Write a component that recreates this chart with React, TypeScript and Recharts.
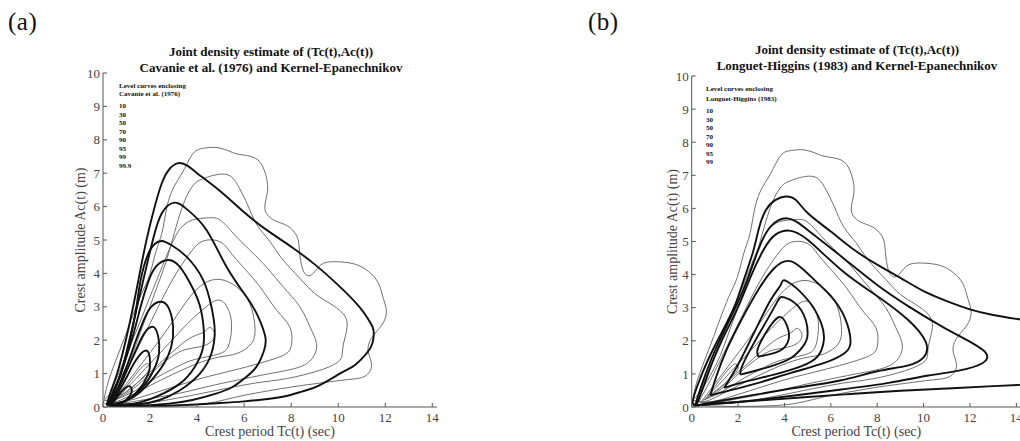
import { LineChart, Line, XAxis, YAxis, Label } from "recharts";

type Pt = [number, number];

const FONT = '"Liberation Serif", "Times New Roman", serif';

const xTicks = [0, 2, 4, 6, 8, 10, 12, 14];
const yTicks = [0, 1, 2, 3, 4, 5, 6, 7, 8, 9, 10];

// kernel (Epanechnikov) estimate - same contours in both panels
const kernel1: Pt[] = [
  [0.02, 0.12], [0.2, 0.7], [0.55, 1.4], [0.95, 2.13], [1.32, 2.84], [1.67, 3.44], [1.98, 3.95],
  [2.25, 4.65], [2.5, 5.2], [2.68, 5.86], [2.95, 6.5], [3.41, 7.06], [3.84, 7.6], [4.3, 7.75],
  [4.8, 7.77], [5.3, 7.68], [5.75, 7.57], [6.45, 7.46], [6.85, 7.1], [7.0, 6.5], [6.88, 5.95],
  [7.25, 5.6], [7.85, 5.42], [8.25, 5.1], [8.35, 4.7], [8.5, 4.1], [8.85, 3.95], [9.25, 4.25],
  [9.85, 4.35], [10.7, 4.28], [11.3, 4.05], [11.7, 3.72], [11.92, 3.25], [12.05, 2.85],
  [11.85, 2.45], [11.4, 2.05], [11.28, 1.65], [11.42, 1.25], [11.13, 0.92], [10.4, 0.82],
  [9.27, 0.72], [8.12, 0.61], [7.0, 0.48], [6.0, 0.35], [5.2, 0.22], [4.4, 0.1], [3.5, 0.04],
  [2.5, 0.02], [1.5, 0.02], [0.5, 0.05], [0.02, 0.12],
];
const kernel2: Pt[] = [
  [0.05, 0.2], [0.36, 0.45], [0.8, 0.95], [1.23, 1.55], [1.59, 2.23], [1.96, 2.94], [2.32, 3.64],
  [2.68, 4.35], [2.97, 5.05], [3.26, 5.75], [3.55, 6.3], [3.85, 6.65], [4.2, 6.82], [4.86, 6.96],
  [5.43, 6.91], [5.8, 6.55], [6.15, 6.05], [6.55, 5.45], [7.1, 4.95], [7.6, 4.45], [8.37, 3.85],
  [9.0, 3.4], [9.65, 3.1], [10.2, 2.8], [10.38, 2.4], [10.2, 1.8], [10.07, 1.4], [9.22, 1.1],
  [7.8, 0.85], [6.5, 0.72], [5.2, 0.55], [4.0, 0.38], [2.8, 0.22], [1.4, 0.1], [0.05, 0.2],
];
const kernel3: Pt[] = [
  [0.2, 0.2], [0.6, 0.9], [1.2, 1.9], [1.8, 2.95], [2.4, 4.0], [2.9, 4.85], [3.3, 5.35], [3.8, 5.6],
  [4.4, 5.66], [4.97, 5.6], [5.6, 5.15], [6.24, 4.7], [7.0, 4.15], [7.66, 3.6], [8.37, 3.0],
  [8.8, 2.4], [9.08, 1.9], [8.94, 1.5], [8.37, 1.2], [7.09, 1.0], [5.68, 0.8], [4.5, 0.62],
  [3.3, 0.42], [2.0, 0.25], [0.8, 0.12], [0.2, 0.2],
];
const kernel4: Pt[] = [
  [0.3, 0.15], [0.8, 0.8], [1.4, 1.65], [2.0, 2.5], [2.6, 3.35], [3.2, 4.1], [3.8, 4.7], [4.3, 4.98],
  [4.97, 4.95], [5.4, 4.65], [5.82, 4.3], [6.67, 3.6], [7.38, 2.9], [7.94, 2.4], [8.02, 1.9],
  [7.8, 1.6], [7.09, 1.4], [6.1, 1.2], [4.97, 1.0], [4.0, 0.82], [3.0, 0.6], [2.0, 0.38],
  [1.0, 0.18], [0.3, 0.15],
];
const kernel5: Pt[] = [
  [0.4, 0.15], [1.0, 0.7], [1.7, 1.35], [2.4, 2.0], [3.1, 2.7], [3.7, 3.3], [4.3, 3.7], [4.97, 3.82],
  [5.68, 3.6], [6.24, 3.1], [6.46, 2.4], [6.31, 1.9], [5.68, 1.6], [4.97, 1.5], [4.2, 1.35],
  [3.4, 1.12], [2.5, 0.82], [1.6, 0.5], [0.8, 0.22], [0.4, 0.15],
];
const kernel6: Pt[] = [
  [0.5, 0.2], [1.2, 0.7], [2.0, 1.3], [2.8, 1.9], [3.6, 2.5], [4.3, 2.95], [4.97, 3.2], [5.39, 2.8],
  [5.46, 2.3], [5.32, 1.8], [4.97, 1.6], [4.4, 1.5], [3.7, 1.38], [3.0, 1.15], [2.2, 0.85],
  [1.4, 0.5], [0.5, 0.2],
];
const kernel7: Pt[] = [
  [0.6, 0.25], [1.5, 0.75], [2.4, 1.3], [3.2, 1.8], [3.8, 2.1], [4.3, 2.25], [4.55, 2.38],
  [4.75, 2.2], [4.6, 1.95], [4.1, 1.8], [3.5, 1.72], [2.9, 1.5], [2.1, 1.05], [1.3, 0.55], [0.6, 0.25],
];
const kernel8: Pt[] = [
  [0.7, 0.35], [1.2, 0.8], [1.6, 1.15], [1.9, 1.3], [2.0, 1.15], [1.7, 0.9], [1.2, 0.55], [0.7, 0.35],
];
const kernelCurves = [kernel1, kernel2, kernel3, kernel4, kernel5, kernel6, kernel7, kernel8];

// Cavanie et al. (1976) level curves
const cav999: Pt[] = [
  [0.15, 0.05], [0.35, 0.5], [0.6, 1.0], [0.97, 2.0], [1.28, 3.0], [1.56, 4.0], [1.85, 5.0],
  [2.2, 6.0], [2.5, 6.7], [2.8, 7.1], [3.2, 7.3], [3.6, 7.22], [4.0, 7.0], [5.0, 6.45], [6.0, 5.83],
  [7.0, 5.28], [8.0, 4.8], [9.0, 4.27], [10.0, 3.65], [10.9, 3.0], [11.3, 2.6], [11.5, 2.3],
  [11.45, 1.9], [11.2, 1.6], [10.7, 1.25], [10.2, 1.05], [9.2, 0.65], [8.5, 0.47], [7.8, 0.33],
  [7.0, 0.24], [6.0, 0.17], [5.0, 0.12], [4.0, 0.08], [3.0, 0.05], [2.0, 0.03], [1.0, 0.02], [0.15, 0.05],
];
const cav99: Pt[] = [
  [0.2, 0.05], [0.45, 0.5], [0.75, 1.0], [1.12, 2.0], [1.45, 3.0], [1.78, 4.0], [2.12, 5.0],
  [2.5, 5.8], [3.05, 6.12], [3.6, 5.9], [4.4, 5.3], [5.25, 4.2], [6.1, 3.3], [6.6, 2.7], [6.9, 2.1],
  [6.85, 1.7], [6.52, 1.2], [6.0, 0.85], [5.5, 0.6], [4.8, 0.4], [3.8, 0.21], [2.8, 0.1], [1.5, 0.04], [0.2, 0.05],
];
const cav95: Pt[] = [
  [0.25, 0.05], [0.55, 0.6], [0.85, 1.2], [1.15, 2.0], [1.4, 2.9], [1.6, 3.8], [1.9, 4.55], [2.2, 4.88],
  [2.5, 4.97], [2.9, 4.85], [3.55, 4.5], [4.26, 3.8], [4.61, 3.0], [4.75, 2.3], [4.61, 1.6], [4.12, 1.0],
  [3.27, 0.5], [2.41, 0.21], [1.5, 0.08], [0.25, 0.05],
];
const cav90: Pt[] = [
  [0.25, 0.05], [0.6, 0.7], [0.95, 1.4], [1.3, 2.2], [1.6, 3.0], [1.9, 3.7], [2.25, 4.2], [2.77, 4.4],
  [3.2, 4.25], [3.55, 3.9], [4.04, 3.2], [4.26, 2.5], [4.26, 1.8], [3.9, 1.2], [3.27, 0.7], [2.27, 0.31],
  [1.3, 0.1], [0.25, 0.05],
];
const cav70: Pt[] = [
  [0.3, 0.05], [0.65, 0.6], [1.0, 1.2], [1.35, 1.9], [1.7, 2.55], [2.05, 3.0], [2.48, 3.15], [2.8, 2.95],
  [2.98, 2.4], [2.9, 1.8], [2.55, 1.25], [2.0, 0.75], [1.3, 0.3], [0.3, 0.05],
];
const cav50: Pt[] = [
  [0.3, 0.05], [0.7, 0.6], [1.05, 1.15], [1.4, 1.7], [1.75, 2.2], [2.13, 2.4], [2.35, 2.1], [2.38, 1.6],
  [2.15, 1.1], [1.7, 0.6], [1.0, 0.2], [0.3, 0.05],
];
const cav30: Pt[] = [
  [0.35, 0.05], [0.7, 0.5], [1.05, 0.95], [1.4, 1.4], [1.84, 1.69], [2.0, 1.35], [1.9, 0.95],
  [1.5, 0.5], [0.9, 0.15], [0.35, 0.05],
];
const cav10: Pt[] = [
  [0.35, 0.05], [0.65, 0.35], [0.9, 0.55], [1.13, 0.62], [1.22, 0.45], [1.0, 0.22], [0.7, 0.1], [0.35, 0.05],
];
const cavanieCurves = [cav999, cav99, cav95, cav90, cav70, cav50, cav30, cav10];
const cavanieLevels = ["10", "30", "50", "70", "90", "95", "99", "99.9"];

// Longuet-Higgins (1983) level curves
const lh99: Pt[] = [
  [14.2, 2.64], [13.0, 2.78], [12.0, 2.95], [11.0, 3.2], [10.0, 3.5], [9.0, 3.9], [8.0, 4.3],
  [7.0, 4.75], [6.0, 5.3], [5.0, 5.86], [4.5, 6.25], [4.06, 6.36], [3.6, 6.25], [3.2, 5.95],
  [2.9, 5.4], [2.65, 4.7], [2.25, 3.85], [1.84, 3.03], [1.28, 2.23], [0.7, 1.42], [0.25, 0.65],
  [0.05, 0.1], [0.5, 0.07], [1.5, 0.13], [3.0, 0.2], [5.0, 0.3], [7.0, 0.4], [9.0, 0.49],
  [11.0, 0.56], [13.0, 0.63], [14.2, 0.67],
];
const lh95: Pt[] = [
  [0.15, 0.05], [0.4, 0.6], [0.85, 1.45], [1.4, 2.3], [1.95, 3.1], [2.45, 3.95], [2.9, 4.8],
  [3.4, 5.45], [4.13, 5.7], [5.0, 5.35], [6.45, 4.55], [7.9, 3.74], [9.35, 3.04], [10.8, 2.43],
  [12.1, 1.93], [12.7, 1.62], [12.55, 1.33], [11.52, 1.1], [10.2, 0.95], [8.5, 0.73], [6.45, 0.53],
  [3.55, 0.27], [1.5, 0.12], [0.15, 0.05],
];
const lh90: Pt[] = [
  [0.2, 0.05], [0.5, 0.6], [0.95, 1.45], [1.5, 2.3], [2.05, 3.1], [2.55, 3.95], [3.1, 4.75],
  [3.6, 5.2], [4.2, 5.33], [5.0, 5.05], [6.45, 4.14], [7.9, 3.4], [9.3, 2.65], [10.1, 1.95],
  [10.0, 1.5], [9.3, 1.25], [8.0, 1.08], [6.4, 0.8], [4.5, 0.58], [2.8, 0.38], [1.2, 0.18], [0.2, 0.05],
];
const lh70: Pt[] = [
  [0.8, 0.35], [1.05, 0.9], [1.5, 1.72], [2.14, 2.63], [2.86, 3.53], [3.57, 4.2], [4.3, 4.4],
  [5.14, 3.94], [6.0, 3.35], [6.6, 2.7], [6.85, 2.0], [6.6, 1.63], [5.72, 1.33], [4.28, 1.03],
  [2.83, 0.72], [1.52, 0.48], [0.8, 0.35],
];
const lh50: Pt[] = [
  [1.4, 0.58], [1.96, 1.23], [2.68, 2.23], [3.41, 3.24], [3.84, 3.69], [4.1, 3.8], [5.0, 3.24],
  [5.58, 2.54], [5.7, 2.03], [5.43, 1.53], [4.71, 1.23], [3.55, 0.98], [2.39, 0.78], [1.4, 0.58],
];
const lh30: Pt[] = [
  [2.1, 0.98], [2.17, 1.23], [2.68, 1.93], [3.26, 2.64], [3.7, 3.19], [4.0, 3.31], [4.71, 2.94],
  [5.0, 2.23], [4.8, 1.83], [4.28, 1.48], [3.41, 1.23], [2.5, 1.05], [2.1, 0.98],
];
const lh10: Pt[] = [
  [2.87, 1.52], [2.83, 1.7], [3.0, 2.0], [3.37, 2.43], [3.77, 2.72], [4.05, 2.55], [4.2, 2.15],
  [4.0, 1.8], [3.55, 1.63], [2.87, 1.52],
];
const lhCurves = [lh99, lh95, lh90, lh70, lh50, lh30, lh10];
const lhLevels = ["10", "30", "50", "70", "90", "95", "99"];

const toRows = (pts: Pt[]) => pts.map(([x, y]) => ({ x, y }));

const tickStyle = { fontFamily: FONT, fontSize: 13, fill: "#444" };
const labelStyle = { fontFamily: FONT, fontSize: 14, fill: "#444" };

function Panel(props: any) {
  const {
    left, width, margin, tag, tagLeft, titleLines, titleCenter, titleTops,
    legendLeft, legendHead, legendHeadTops, levels, levelTop, thick, yLabelOffset,
  } = props;
  return (
    <>
      <div style={{ position: "absolute", left, top: 0 }}>
        <LineChart width={width} height={441} margin={margin}>
          <XAxis
            dataKey="x"
            type="number"
            domain={[0, 14.2]}
            ticks={xTicks}
            allowDataOverflow
            height={30}
            tickSize={-4}
            tickMargin={10}
            tick={tickStyle}
            stroke="#555"
          >
            <Label value="Crest period Tc(t) (sec)" position="insideBottom" offset={1} style={labelStyle} />
          </XAxis>
          <YAxis
            dataKey="y"
            type="number"
            domain={[0, 10]}
            ticks={yTicks}
            allowDataOverflow
            width={40}
            tickSize={-4}
            tickMargin={7}
            tick={tickStyle}
            stroke="#555"
          >
            <Label
              value="Crest amplitude Ac(t) (m)"
              angle={-90}
              position="insideLeft"
              offset={yLabelOffset}
              style={{ ...labelStyle, textAnchor: "middle" }}
            />
          </YAxis>
          {kernelCurves.map((c, i) => (
            <Line
              key={"k" + i}
              data={toRows(c)}
              dataKey="y"
              type="natural"
              stroke="#6f6f6f"
              strokeWidth={1}
              dot={false}
              activeDot={false}
              isAnimationActive={false}
            />
          ))}
          {thick.map((c: Pt[], i: number) => (
            <Line
              key={"t" + i}
              data={toRows(c)}
              dataKey="y"
              type="natural"
              stroke="#111"
              strokeWidth={1.9}
              dot={false}
              activeDot={false}
              isAnimationActive={false}
            />
          ))}
        </LineChart>
      </div>
      <div style={{ position: "absolute", left: tagLeft, top: 8, fontSize: 25, letterSpacing: 0.5, lineHeight: "28px" }}>
        {tag}
      </div>
      {titleLines.map((t: string, i: number) => (
        <div
          key={"ti" + i}
          style={{
            position: "absolute", left: titleCenter - 250, width: 500, top: titleTops[i] - 8,
            textAlign: "center", fontWeight: "bold", fontSize: 13, lineHeight: "16px", color: "#111",
          }}
        >
          {t}
        </div>
      ))}
      {legendHead.map((t: string, i: number) => (
        <div
          key={"lh" + i}
          style={{
            position: "absolute", left: legendLeft, top: legendHeadTops[i] - 4, fontWeight: "bold",
            fontSize: 7, lineHeight: "8px", whiteSpace: "nowrap", color: "#111",
          }}
        >
          {t}
        </div>
      ))}
      {levels.map((t: string, i: number) => (
        <div
          key={"lv" + i}
          style={{
            position: "absolute", left: legendLeft, top: levelTop + i * 8.5 - 4, fontWeight: "bold",
            fontSize: 7, lineHeight: "8px", color: "#111",
          }}
        >
          {t}
        </div>
      ))}
    </>
  );
}

export default function App() {
  return (
    <div
      style={{
        position: "absolute", left: 0, top: 0, width: 1020, height: 441, overflow: "hidden",
        background: "#fff", fontFamily: FONT, color: "#111",
      }}
    >
      <Panel
        left={0}
        width={460}
        margin={{ top: 73, right: 23, bottom: 4, left: 63 }}
        tag="(a)"
        tagLeft={8}
        titleLines={["Joint density estimate of (Tc(t),Ac(t))", "Cavanie et al. (1976) and Kernel-Epanechnikov"]}
        titleCenter={271}
        titleTops={[52, 67.7]}
        legendLeft={119}
        legendHead={["Level curves enclosing", "Cavanie et al. (1976)"]}
        legendHeadTops={[86, 94.3]}
        levels={cavanieLevels}
        levelTop={106}
        thick={cavanieCurves}
        yLabelOffset={17}
      />
      <Panel
        left={560}
        width={470}
        margin={{ top: 76, right: 9, bottom: 4, left: 91.7 }}
        tag="(b)"
        tagLeft={588}
        titleLines={["Joint density estimate of (Tc(t),Ac(t))", "Longuet-Higgins (1983) and Kernel-Epanechnikov"]}
        titleCenter={857}
        titleTops={[50, 65.7]}
        legendLeft={706}
        legendHead={["Level curves enclosing", "Longuet-Higgins (1983)"]}
        legendHeadTops={[89.3, 98.7]}
        levels={lhLevels}
        levelTop={111}
        thick={lhCurves}
        yLabelOffset={20}
      />
    </div>
  );
}
